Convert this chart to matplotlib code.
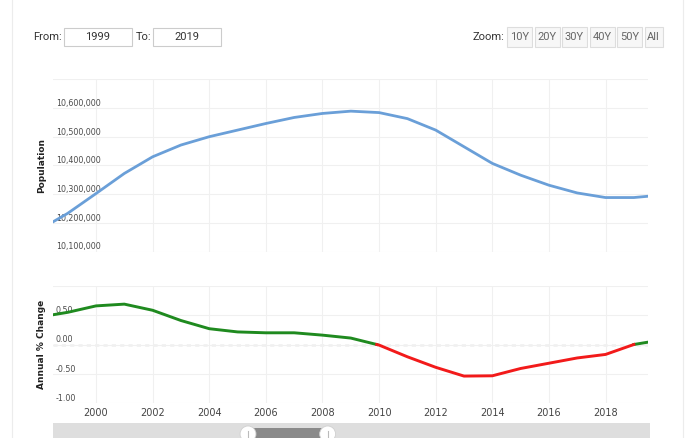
#!/usr/bin/env python3
# Population + annual % change, two stacked panels with a header bar
import numpy as np
import matplotlib
matplotlib.use("Agg")
import matplotlib.pyplot as plt
from matplotlib.patches import Rectangle, Ellipse

# data (year-end values)
years = [1998, 1999, 2000, 2001, 2002, 2003, 2004, 2005, 2006, 2007, 2008,
         2009, 2010, 2011, 2012, 2013, 2014, 2015, 2016, 2017, 2018, 2019, 2020]
population = [10176000, 10233000, 10302000, 10372000, 10430000, 10471000,
              10500000, 10523000, 10546000, 10567000, 10581000, 10589000,
              10584000, 10563000, 10523000, 10465000, 10407000, 10366000,
              10331000, 10304000, 10288000, 10288000, 10297000]
pct_change = [0.47, 0.55, 0.66, 0.69, 0.585, 0.41, 0.27, 0.215, 0.20, 0.20,
              0.16, 0.11, -0.01, -0.21, -0.39, -0.54, -0.535, -0.41, -0.32,
              -0.23, -0.17, 0.0, 0.08]
from_year, to_year = 1999, 2019
zoom_buttons = ["10Y", "20Y", "30Y", "40Y", "50Y", "All"]
pop_ticks = [10100000, 10200000, 10300000, 10400000, 10500000, 10600000]
pct_ticks = [-1.0, -0.5, 0.0, 0.5]
x_ticks = list(range(2000, 2019, 2))

W, H = 686, 438
fig = plt.figure(figsize=(W / 100, H / 100), dpi=100)


def fx(px):
    return px / W


def fy(py):
    return 1 - py / H


def fig_rect(x0, y0, x1, y1, **kw):
    r = Rectangle((fx(x0), fy(y1)), fx(x1) - fx(x0), (y1 - y0) / H,
                  transform=fig.transFigure, **kw)
    fig.add_artist(r)
    return r


# outer panel (behind everything)
fig_rect(12, -2, 683, 445, facecolor="white", edgecolor="#ececec", lw=0.8,
         zorder=-10)

# header widgets
hfont = ["Liberation Sans Narrow", "Roboto", "DejaVu Sans"]
fig.text(fx(33), fy(37), "From:", family=hfont, fontsize=8, color="#333",
         va="center", ha="left")
fig_rect(64, 28, 132, 46, facecolor="white", edgecolor="#cccccc", lw=0.8)
fig.text(fx(98), fy(37), str(from_year), family=hfont, fontsize=8,
         color="#333", va="center", ha="center")
fig.text(fx(136), fy(37), "To:", family=hfont, fontsize=8, color="#333",
         va="center", ha="left")
fig_rect(153, 28, 221, 46, facecolor="white", edgecolor="#cccccc", lw=0.8)
fig.text(fx(187), fy(37), str(to_year), family=hfont, fontsize=8,
         color="#333", va="center", ha="center")

fig.text(fx(504), fy(37), "Zoom:", family=hfont, fontsize=8, color="#333",
         va="center", ha="right")
bx = 507
for lab in zoom_buttons:
    bw = 18 if lab == "All" else 25
    fig_rect(bx, 27, bx + bw, 47, facecolor="#f7f7f7", edgecolor="#dddddd",
             lw=0.8)
    fig.text(fx(bx + bw / 2), fy(37), lab, family=hfont, fontsize=8,
             color="#666", va="center", ha="center")
    bx += bw + 2.5

xlim = (1998.48, 2019.5)
grid_kw = dict(color="#f0f0f0", lw=0.8)

# top panel: population
ax1 = fig.add_axes([fx(53), fy(251.5), fx(648) - fx(53), (251.5 - 79.3) / H])
ax1.plot(years, population, color="#6a9fd8", lw=2.0, solid_capstyle="round",
         zorder=3)
ax1.set_xlim(*xlim)
ax1.set_ylim(10100000, 10700000)
ax1.set_xticks(x_ticks)
ax1.set_yticks(pop_ticks + [10700000])
ax1.grid(True, **grid_kw)
ax1.tick_params(length=0, labelbottom=False, labelleft=False)
for s in ax1.spines.values():
    s.set_visible(False)
for v in pop_ticks:
    ax1.text(0.005, v, f"{v:,.0f}", transform=ax1.get_yaxis_transform(),
             ha="left", va="bottom", fontsize=5.7, color="#4a4a4a", zorder=2)
ax1.set_ylabel("Population", fontsize=6.5, fontweight="bold", color="#222")
ax1.yaxis.set_label_coords((46 - 53) / 595, 0.5)

# bottom panel: annual % change, green above zero, red below
ax2 = fig.add_axes([fx(53), fy(403), fx(648) - fx(53), (403 - 286) / H])
xs, ys = [], []
for i in range(len(years) - 1):
    xs.append(years[i])
    ys.append(pct_change[i])
    a, b = pct_change[i], pct_change[i + 1]
    if a * b < 0:
        t = a / (a - b)
        xs.append(years[i] + t)
        ys.append(0.0)
xs.append(years[-1])
ys.append(pct_change[-1])
xs = np.array(xs)
ys = np.array(ys)
ax2.plot(xs, np.ma.masked_where(ys < 0, ys), color="#1f8a1f", lw=2.1,
         zorder=3)
ax2.plot(xs, np.ma.masked_where(ys > 0, ys), color="#f21a1a", lw=2.1,
         zorder=3)
ax2.axhline(0, color="#c4c4c4", lw=1.0, ls=(0, (3, 3)), zorder=1)
ax2.set_xlim(*xlim)
ax2.set_ylim(-1.0, 1.0)
ax2.set_xticks(x_ticks)
ax2.set_yticks(pct_ticks + [1.0])
ax2.grid(True, **grid_kw)
ax2.tick_params(axis="y", length=0, labelleft=False)
ax2.tick_params(axis="x", length=0, labelsize=7, labelcolor="#444", pad=3.5)
for s in ax2.spines.values():
    s.set_visible(False)
for v in pct_ticks:
    ax2.text(0.005, v, f"{v:.2f}", transform=ax2.get_yaxis_transform(),
             ha="left", va="bottom", fontsize=5.7, color="#4a4a4a", zorder=2)
ax2.set_ylabel("Annual % Change", fontsize=6.5, fontweight="bold",
               color="#222")
ax2.yaxis.set_label_coords((46 - 53) / 595, 0.5)

# navigator strip (full 1950-2100 range, selection highlighted)
axn = fig.add_axes([fx(53), 0, fx(650) - fx(53), (438 - 422.7) / H])
axn.set_xlim(1950, 2100)
axn.set_ylim(0, 1)
axn.axis("off")
axn.add_patch(Rectangle((1950, 0), 150, 1, facecolor="#dedede",
                        edgecolor="none"))
axn.add_patch(Rectangle((from_year, 0), to_year - from_year, 0.65,
                        facecolor="#8a8a8a", edgecolor="none"))
for hx in (from_year, to_year):
    axn.add_patch(Ellipse((hx, 0.26), 4.0, 1.05, facecolor="white",
                          edgecolor="#d0d0d0", lw=0.6, clip_on=False))
    axn.plot([hx, hx], [0.0, 0.45], color="#bbbbbb", lw=0.8)

fig.savefig("out.png", dpi=100)
